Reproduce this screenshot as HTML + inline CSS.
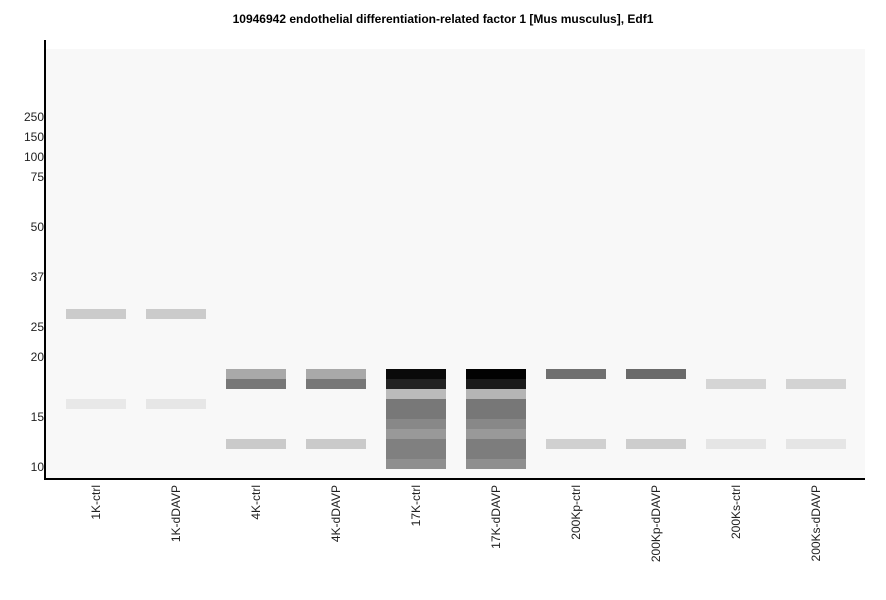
<!DOCTYPE html><html><head><style>body{margin:0;background:#fff;font-family:"Liberation Sans",sans-serif}</style></head><body>
<svg width="886" height="595" xmlns="http://www.w3.org/2000/svg" font-family="Liberation Sans, sans-serif">
<rect width="886" height="595" fill="#fff"/>
<text x="443" y="23" text-anchor="middle" font-size="12" font-weight="bold">10946942 endothelial differentiation-related factor 1 [Mus musculus], Edf1</text>
<rect x="46" y="49" width="819" height="429" fill="#f8f8f8"/>
<g shape-rendering="crispEdges">
<rect x="66" y="309" width="60" height="10" fill="#cbcbcb"/><rect x="66" y="399" width="60" height="10" fill="#e8e8e8"/>
<rect x="146" y="309" width="60" height="10" fill="#cbcbcb"/><rect x="146" y="399" width="60" height="10" fill="#e6e6e6"/>
<rect x="226" y="369" width="60" height="10" fill="#a9a9a9"/><rect x="226" y="379" width="60" height="10" fill="#777"/><rect x="226" y="439" width="60" height="10" fill="#cacaca"/>
<rect x="306" y="369" width="60" height="10" fill="#a9a9a9"/><rect x="306" y="379" width="60" height="10" fill="#777"/><rect x="306" y="439" width="60" height="10" fill="#cacaca"/>
<g id="k17"><rect x="386" y="369" width="60" height="10" fill="#0a0a0a"/><rect x="386" y="379" width="60" height="10" fill="#222"/><rect x="386" y="389" width="60" height="10" fill="#bbb"/><rect x="386" y="399" width="60" height="20" fill="#787878"/><rect x="386" y="419" width="60" height="10" fill="#888"/><rect x="386" y="429" width="60" height="10" fill="#999"/><rect x="386" y="439" width="60" height="20" fill="#808080"/><rect x="386" y="459" width="60" height="10" fill="#8f8f8f"/></g>
<rect x="466" y="369" width="60" height="10" fill="#020202"/><rect x="466" y="379" width="60" height="10" fill="#1a1a1a"/><rect x="466" y="389" width="60" height="10" fill="#b5b5b5"/><rect x="466" y="399" width="60" height="20" fill="#777"/><rect x="466" y="419" width="60" height="10" fill="#888"/><rect x="466" y="429" width="60" height="10" fill="#999"/><rect x="466" y="439" width="60" height="20" fill="#7d7d7d"/><rect x="466" y="459" width="60" height="10" fill="#8f8f8f"/>
<rect x="546" y="369" width="60" height="10" fill="#707070"/><rect x="546" y="439" width="60" height="10" fill="#d0d0d0"/>
<rect x="626" y="369" width="60" height="10" fill="#6a6a6a"/><rect x="626" y="439" width="60" height="10" fill="#cdcdcd"/>
<rect x="706" y="379" width="60" height="10" fill="#d5d5d5"/><rect x="706" y="439" width="60" height="10" fill="#e5e5e5"/>
<rect x="786" y="379" width="60" height="10" fill="#d3d3d3"/><rect x="786" y="439" width="60" height="10" fill="#e5e5e5"/>
<rect x="44" y="40" width="2" height="440" fill="#000"/><rect x="44" y="478" width="821" height="2" fill="#000"/>
</g>
<g font-size="12" text-anchor="end" fill="#222">
<text x="44" y="121">250</text><text x="44" y="141">150</text><text x="44" y="161">100</text><text x="44" y="181">75</text><text x="44" y="231">50</text><text x="44" y="281">37</text><text x="44" y="331">25</text><text x="44" y="361">20</text><text x="44" y="421">15</text><text x="44" y="471">10</text>
</g>
<g font-size="12" text-anchor="end" fill="#222">
<text transform="translate(100,485) rotate(-90)">1K-ctrl</text>
<text transform="translate(180,485) rotate(-90)">1K-dDAVP</text>
<text transform="translate(260,485) rotate(-90)">4K-ctrl</text>
<text transform="translate(340,485) rotate(-90)">4K-dDAVP</text>
<text transform="translate(420,485) rotate(-90)">17K-ctrl</text>
<text transform="translate(500,485) rotate(-90)">17K-dDAVP</text>
<text transform="translate(580,485) rotate(-90)">200Kp-ctrl</text>
<text transform="translate(660,485) rotate(-90)">200Kp-dDAVP</text>
<text transform="translate(740,485) rotate(-90)">200Ks-ctrl</text>
<text transform="translate(820,485) rotate(-90)">200Ks-dDAVP</text>
</g>
</svg></body></html>
